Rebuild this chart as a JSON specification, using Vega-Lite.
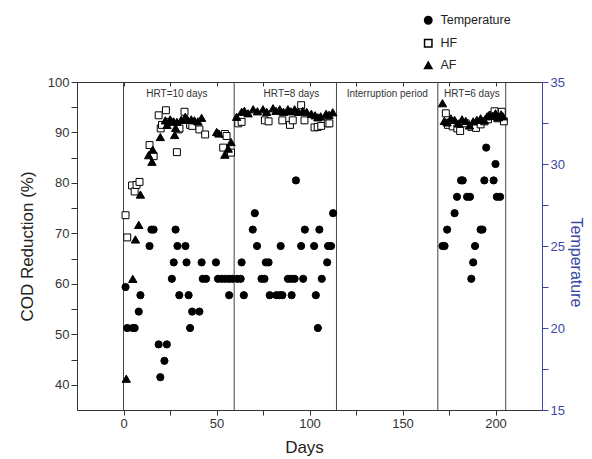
{
  "$schema": "https://vega.github.io/schema/vega-lite/v6.json",
  "width": 465,
  "height": 328,
  "autosize": {"type": "none"},
  "padding": {"left": 77, "top": 82, "right": 50, "bottom": 49},
  "background": "white",
  "config": {
    "font": "Liberation Sans",
    "view": {"stroke": "#333", "strokeWidth": 1},
    "axis": {"labelFont": "Liberation Sans", "titleFont": "Liberation Sans", "grid": false, "titleFontWeight": "normal"},
    "legend": {"labelFont": "Liberation Sans"}
  },
  "datasets": {
    "dividers": [{"day": 0}, {"day": 59.5}, {"day": 114.5}, {"day": 169}, {"day": 205.5}],
    "labels": [
      {"day": 28.7, "value": 97.7, "text": "HRT=10 days"},
      {"day": 90.3, "value": 97.7, "text": "HRT=8 days"},
      {"day": 141.8, "value": 97.7, "text": "Interruption period"},
      {"day": 187.3, "value": 97.7, "text": "HRT=6 days"}
    ],
    "cod": [
      {"day": 1.1, "value": 73.6, "series": "HF"}, {"day": 2, "value": 69.2, "series": "HF"}, {"day": 4.6, "value": 79.5, "series": "HF"}, {"day": 6, "value": 78.3, "series": "HF"}, {"day": 7, "value": 79.6, "series": "HF"}, {"day": 8.6, "value": 80.2, "series": "HF"}, {"day": 14, "value": 87.5, "series": "HF"}, {"day": 16.2, "value": 85.3, "series": "HF"}, {"day": 18.9, "value": 93.4, "series": "HF"}, {"day": 20, "value": 90.8, "series": "HF"}, {"day": 20.7, "value": 91.5, "series": "HF"}, {"day": 22.8, "value": 94.4, "series": "HF"}, {"day": 24.2, "value": 92.1, "series": "HF"}, {"day": 28.7, "value": 86.1, "series": "HF"}, {"day": 29.6, "value": 90.6, "series": "HF"}, {"day": 30.1, "value": 90.8, "series": "HF"}, {"day": 32.8, "value": 94.1, "series": "HF"}, {"day": 35.8, "value": 91.5, "series": "HF"}, {"day": 37, "value": 91.3, "series": "HF"}, {"day": 40.8, "value": 90.6, "series": "HF"}, {"day": 43.9, "value": 89.6, "series": "HF"}, {"day": 53.6, "value": 87, "series": "HF"}, {"day": 54.5, "value": 89.7, "series": "HF"}, {"day": 55.4, "value": 89.3, "series": "HF"}, {"day": 57.8, "value": 86, "series": "HF"},
      {"day": 61.7, "value": 91.8, "series": "HF"}, {"day": 63.5, "value": 92.1, "series": "HF"}, {"day": 76, "value": 92.4, "series": "HF"}, {"day": 78, "value": 92.2, "series": "HF"}, {"day": 85.4, "value": 92.4, "series": "HF"}, {"day": 89.5, "value": 91.5, "series": "HF"}, {"day": 91, "value": 92.4, "series": "HF"}, {"day": 95.5, "value": 95.4, "series": "HF"}, {"day": 97.3, "value": 92.4, "series": "HF"}, {"day": 102.7, "value": 91, "series": "HF"}, {"day": 104.4, "value": 91.1, "series": "HF"}, {"day": 106.3, "value": 91.3, "series": "HF"}, {"day": 109.8, "value": 91.8, "series": "HF"}, {"day": 110.7, "value": 91.8, "series": "HF"},
      {"day": 173.3, "value": 93.8, "series": "HF"}, {"day": 174.5, "value": 91.5, "series": "HF"}, {"day": 177, "value": 91.2, "series": "HF"}, {"day": 179.5, "value": 90.8, "series": "HF"}, {"day": 181, "value": 90.3, "series": "HF"}, {"day": 184, "value": 91.8, "series": "HF"}, {"day": 187, "value": 91.1, "series": "HF"}, {"day": 189.5, "value": 90.9, "series": "HF"}, {"day": 192, "value": 91.6, "series": "HF"}, {"day": 194, "value": 92.2, "series": "HF"}, {"day": 196, "value": 92.6, "series": "HF"}, {"day": 198, "value": 93.4, "series": "HF"}, {"day": 199.5, "value": 94.2, "series": "HF"}, {"day": 201, "value": 92.8, "series": "HF"}, {"day": 203.4, "value": 94.1, "series": "HF"}, {"day": 204.5, "value": 92.2, "series": "HF"},
      {"day": 1.5, "value": 41.2, "series": "AF"}, {"day": 5, "value": 61, "series": "AF"}, {"day": 6.4, "value": 68.8, "series": "AF"}, {"day": 8.2, "value": 71.7, "series": "AF"}, {"day": 9.1, "value": 77.7, "series": "AF"}, {"day": 13.5, "value": 85.5, "series": "AF"}, {"day": 15.3, "value": 84.2, "series": "AF"}, {"day": 15.7, "value": 86.6, "series": "AF"}, {"day": 19.8, "value": 89.1, "series": "AF"}, {"day": 22.5, "value": 92.4, "series": "AF"}, {"day": 23.4, "value": 91.5, "series": "AF"}, {"day": 25.1, "value": 92.6, "series": "AF"}, {"day": 26.9, "value": 92.2, "series": "AF"}, {"day": 27.5, "value": 89.5, "series": "AF"}, {"day": 28, "value": 90.9, "series": "AF"}, {"day": 28.7, "value": 92.1, "series": "AF"}, {"day": 31, "value": 92.5, "series": "AF"}, {"day": 33.2, "value": 93.1, "series": "AF"}, {"day": 34.5, "value": 92.5, "series": "AF"}, {"day": 36.4, "value": 92.6, "series": "AF"}, {"day": 38.1, "value": 92.4, "series": "AF"}, {"day": 40, "value": 92.2, "series": "AF"}, {"day": 42, "value": 92.9, "series": "AF"}, {"day": 50.1, "value": 90.1, "series": "AF"}, {"day": 51.3, "value": 89.8, "series": "AF"}, {"day": 54.5, "value": 85.6, "series": "AF"}, {"day": 56.3, "value": 86.8, "series": "AF"}, {"day": 57.8, "value": 88.1, "series": "AF"},
      {"day": 60.8, "value": 93.1, "series": "AF"}, {"day": 63.5, "value": 94.1, "series": "AF"}, {"day": 65, "value": 94.3, "series": "AF"}, {"day": 67, "value": 93.8, "series": "AF"}, {"day": 69.7, "value": 94.6, "series": "AF"}, {"day": 72, "value": 94.2, "series": "AF"}, {"day": 75, "value": 94.6, "series": "AF"}, {"day": 77, "value": 94.1, "series": "AF"}, {"day": 80.4, "value": 94.8, "series": "AF"}, {"day": 82, "value": 94.3, "series": "AF"}, {"day": 84, "value": 94.6, "series": "AF"}, {"day": 86, "value": 94.1, "series": "AF"}, {"day": 88.4, "value": 94.6, "series": "AF"}, {"day": 90, "value": 94.2, "series": "AF"}, {"day": 92, "value": 94.6, "series": "AF"}, {"day": 94, "value": 94.1, "series": "AF"}, {"day": 96.4, "value": 94.3, "series": "AF"}, {"day": 98.5, "value": 94.1, "series": "AF"}, {"day": 101, "value": 93.7, "series": "AF"}, {"day": 103, "value": 93.4, "series": "AF"}, {"day": 104.5, "value": 93, "series": "AF"}, {"day": 106, "value": 93.2, "series": "AF"}, {"day": 108.9, "value": 93.7, "series": "AF"}, {"day": 110.5, "value": 93.5, "series": "AF"}, {"day": 112.5, "value": 94, "series": "AF"},
      {"day": 171.5, "value": 95.8, "series": "AF"}, {"day": 172.5, "value": 92.3, "series": "AF"}, {"day": 174, "value": 92, "series": "AF"}, {"day": 176, "value": 92.8, "series": "AF"}, {"day": 178, "value": 92.5, "series": "AF"}, {"day": 180, "value": 91.8, "series": "AF"}, {"day": 182, "value": 92.6, "series": "AF"}, {"day": 184, "value": 92.3, "series": "AF"}, {"day": 186, "value": 91.4, "series": "AF"}, {"day": 188, "value": 92.2, "series": "AF"}, {"day": 190, "value": 92.5, "series": "AF"}, {"day": 192, "value": 92.8, "series": "AF"}, {"day": 194, "value": 92.4, "series": "AF"}, {"day": 195.5, "value": 93.2, "series": "AF"}, {"day": 197, "value": 93.5, "series": "AF"}, {"day": 198.5, "value": 93.3, "series": "AF"}, {"day": 200, "value": 93.8, "series": "AF"}, {"day": 201.5, "value": 93, "series": "AF"}, {"day": 203, "value": 93.6, "series": "AF"}, {"day": 204, "value": 93.2, "series": "AF"}
    ],
    "temp": [
      {"day": 1.1, "value": 22.5, "series": "Temperature"}, {"day": 2, "value": 20, "series": "Temperature"}, {"day": 5, "value": 20, "series": "Temperature"}, {"day": 6, "value": 20, "series": "Temperature"}, {"day": 8.2, "value": 21, "series": "Temperature"}, {"day": 9.1, "value": 22, "series": "Temperature"}, {"day": 14, "value": 25, "series": "Temperature"}, {"day": 15, "value": 26, "series": "Temperature"}, {"day": 16.2, "value": 26, "series": "Temperature"}, {"day": 18.9, "value": 19, "series": "Temperature"}, {"day": 19.8, "value": 17, "series": "Temperature"}, {"day": 22, "value": 18, "series": "Temperature"}, {"day": 23.3, "value": 19, "series": "Temperature"}, {"day": 26, "value": 23, "series": "Temperature"}, {"day": 27, "value": 24, "series": "Temperature"}, {"day": 28, "value": 26, "series": "Temperature"}, {"day": 29, "value": 25, "series": "Temperature"}, {"day": 30, "value": 22, "series": "Temperature"}, {"day": 33.3, "value": 25, "series": "Temperature"}, {"day": 33.9, "value": 24, "series": "Temperature"}, {"day": 35, "value": 22, "series": "Temperature"}, {"day": 35.8, "value": 20, "series": "Temperature"}, {"day": 36.9, "value": 21, "series": "Temperature"}, {"day": 40.8, "value": 21, "series": "Temperature"}, {"day": 42, "value": 24, "series": "Temperature"}, {"day": 42.6, "value": 23, "series": "Temperature"}, {"day": 44.4, "value": 23, "series": "Temperature"}, {"day": 49.7, "value": 24, "series": "Temperature"}, {"day": 50.8, "value": 23, "series": "Temperature"}, {"day": 52.8, "value": 23, "series": "Temperature"}, {"day": 54.7, "value": 23, "series": "Temperature"}, {"day": 56.7, "value": 23, "series": "Temperature"}, {"day": 58.6, "value": 23, "series": "Temperature"}, {"day": 56.8, "value": 22, "series": "Temperature"},
      {"day": 61.1, "value": 23, "series": "Temperature"}, {"day": 63, "value": 23, "series": "Temperature"}, {"day": 63.5, "value": 24, "series": "Temperature"}, {"day": 64.7, "value": 22, "series": "Temperature"}, {"day": 69.5, "value": 26, "series": "Temperature"}, {"day": 70.6, "value": 27, "series": "Temperature"}, {"day": 71.8, "value": 25, "series": "Temperature"}, {"day": 74.2, "value": 23, "series": "Temperature"}, {"day": 75.8, "value": 23, "series": "Temperature"}, {"day": 76.5, "value": 24, "series": "Temperature"}, {"day": 78, "value": 24, "series": "Temperature"}, {"day": 78.6, "value": 22, "series": "Temperature"}, {"day": 82.2, "value": 22, "series": "Temperature"}, {"day": 84, "value": 22, "series": "Temperature"}, {"day": 85.4, "value": 22, "series": "Temperature"}, {"day": 84.5, "value": 25, "series": "Temperature"}, {"day": 88.4, "value": 23, "series": "Temperature"}, {"day": 90.2, "value": 23, "series": "Temperature"}, {"day": 92, "value": 23, "series": "Temperature"}, {"day": 90.4, "value": 22, "series": "Temperature"}, {"day": 92.7, "value": 29, "series": "Temperature"}, {"day": 95.5, "value": 25, "series": "Temperature"}, {"day": 96.6, "value": 23, "series": "Temperature"}, {"day": 97.5, "value": 26, "series": "Temperature"}, {"day": 102.5, "value": 25, "series": "Temperature"}, {"day": 103.4, "value": 22, "series": "Temperature"}, {"day": 104.5, "value": 20, "series": "Temperature"}, {"day": 105.3, "value": 26, "series": "Temperature"}, {"day": 106.6, "value": 23, "series": "Temperature"}, {"day": 109.5, "value": 24, "series": "Temperature"}, {"day": 110, "value": 25, "series": "Temperature"}, {"day": 111.6, "value": 25, "series": "Temperature"}, {"day": 112.7, "value": 27, "series": "Temperature"},
      {"day": 171.5, "value": 25, "series": "Temperature"}, {"day": 172.6, "value": 25, "series": "Temperature"}, {"day": 174, "value": 26, "series": "Temperature"}, {"day": 178, "value": 27, "series": "Temperature"}, {"day": 179.3, "value": 28, "series": "Temperature"}, {"day": 181.5, "value": 29, "series": "Temperature"}, {"day": 182.4, "value": 29, "series": "Temperature"}, {"day": 184.7, "value": 28, "series": "Temperature"}, {"day": 186.3, "value": 28, "series": "Temperature"}, {"day": 187, "value": 23, "series": "Temperature"}, {"day": 188, "value": 24, "series": "Temperature"}, {"day": 189, "value": 25, "series": "Temperature"}, {"day": 192, "value": 26, "series": "Temperature"}, {"day": 193, "value": 26, "series": "Temperature"}, {"day": 194, "value": 29, "series": "Temperature"}, {"day": 195, "value": 31, "series": "Temperature"}, {"day": 199, "value": 29, "series": "Temperature"}, {"day": 200, "value": 30, "series": "Temperature"}, {"day": 200.7, "value": 28, "series": "Temperature"}, {"day": 202.5, "value": 28, "series": "Temperature"}
    ]
  },
  "layer": [
    {
      "data": {"name": "dividers"},
      "mark": {"type": "rule", "color": "#444", "strokeWidth": 1},
      "encoding": {
        "x": {"field": "day", "type": "quantitative", "scale": {"domain": [-25, 225], "nice": false, "zero": false},
          "axis": {"orient": "top", "values": [0, 25, 50, 75, 100, 125, 150, 175, 200], "labels": false, "domain": false, "ticks": true, "tickSize": -4, "tickColor": "#333", "title": null}}
      }
    },
    {
      "data": {"name": "labels"},
      "mark": {"type": "text", "fontSize": 10, "color": "#333", "font": "Liberation Sans"},
      "encoding": {
        "x": {"field": "day", "type": "quantitative", "axis": null},
        "y": {"field": "value", "type": "quantitative", "scale": {"domain": [35, 100], "nice": false, "zero": false}, "axis": null},
        "text": {"field": "text"}
      }
    },
    {
      "data": {"name": "cod"},
      "mark": {"type": "point", "stroke": "black", "strokeWidth": 1, "opacity": 1},
      "encoding": {
        "x": {"field": "day", "type": "quantitative",
          "axis": {"orient": "bottom", "title": "Days", "titleFontSize": 17, "titleColor": "#222", "titlePadding": 9, "titleX": 227, "values": [0, 25, 50, 75, 100, 125, 150, 175, 200], "labelExpr": "datum.value % 50 === 0 ? datum.label : ''", "labelFontSize": 13, "labelColor": "#333", "tickColor": "#333", "domainColor": "#333", "tickSize": 5}},
        "y": {"field": "value", "type": "quantitative", "scale": {"domain": [35, 100], "nice": false, "zero": false},
          "axis": {"orient": "left", "title": "COD Reduction (%)", "titleFontSize": 17, "titleColor": "#222", "titlePadding": 11, "values": [40, 45, 50, 55, 60, 65, 70, 75, 80, 85, 90, 95, 100], "labelExpr": "datum.value % 10 === 0 ? datum.label : ''", "labelFontSize": 13, "labelColor": "#333", "tickColor": "#333", "domainColor": "#333", "tickSize": 6}},
        "shape": {"field": "series", "type": "nominal", "scale": {"domain": ["Temperature", "HF", "AF"], "range": ["circle", "square", "triangle-up"]},
          "legend": {"orient": "none", "legendX": 345, "legendY": -68, "title": null, "labelFontSize": 12.5, "labelColor": "#222", "rowPadding": 9, "symbolSize": 55, "labelOffset": 6, "encode": {"symbols": {"update": {"stroke": {"value": "black"}, "strokeWidth": {"value": 1}, "opacity": {"value": 1}}}}}},
        "fill": {"field": "series", "type": "nominal", "scale": {"domain": ["Temperature", "HF", "AF"], "range": ["black", "white", "black"]},
          "legend": {"orient": "none", "legendX": 345, "legendY": -68, "title": null, "labelFontSize": 12.5, "labelColor": "#222", "rowPadding": 9, "symbolSize": 55, "labelOffset": 6, "encode": {"symbols": {"update": {"stroke": {"value": "black"}, "strokeWidth": {"value": 1}, "opacity": {"value": 1}}}}}},
        "size": {"condition": {"test": "datum.series === 'AF'", "value": 70}, "value": 48}
      }
    },
    {
      "data": {"name": "temp"},
      "mark": {"type": "point", "stroke": "black", "strokeWidth": 1, "opacity": 1, "size": 52},
      "encoding": {
        "x": {"field": "day", "type": "quantitative", "axis": null},
        "y": {"field": "value", "type": "quantitative", "scale": {"domain": [15, 35], "nice": false, "zero": false},
          "axis": {"orient": "right", "title": "Temperature", "titleFontSize": 16, "titleColor": "#3949a3", "titleAngle": 90, "titlePadding": 3, "titleY": 180, "values": [15, 17.5, 20, 22.5, 25, 27.5, 30, 32.5, 35], "labelExpr": "datum.value % 5 === 0 ? datum.label : ''", "labelFontSize": 13, "labelColor": "#3949a3", "tickColor": "#3949a3", "domainColor": "#3949a3", "tickSize": 6}},
        "shape": {"field": "series", "type": "nominal", "scale": {"domain": ["Temperature", "HF", "AF"], "range": ["circle", "square", "triangle-up"]},
          "legend": {"orient": "none", "legendX": 345, "legendY": -68, "title": null, "labelFontSize": 12.5, "labelColor": "#222", "rowPadding": 9, "symbolSize": 55, "labelOffset": 6, "encode": {"symbols": {"update": {"stroke": {"value": "black"}, "strokeWidth": {"value": 1}, "opacity": {"value": 1}}}}}},
        "fill": {"field": "series", "type": "nominal", "scale": {"domain": ["Temperature", "HF", "AF"], "range": ["black", "white", "black"]},
          "legend": {"orient": "none", "legendX": 345, "legendY": -68, "title": null, "labelFontSize": 12.5, "labelColor": "#222", "rowPadding": 9, "symbolSize": 55, "labelOffset": 6, "encode": {"symbols": {"update": {"stroke": {"value": "black"}, "strokeWidth": {"value": 1}, "opacity": {"value": 1}}}}}}
      }
    }
  ],
  "resolve": {"scale": {"y": "independent"}, "axis": {"x": "independent"}}
}
